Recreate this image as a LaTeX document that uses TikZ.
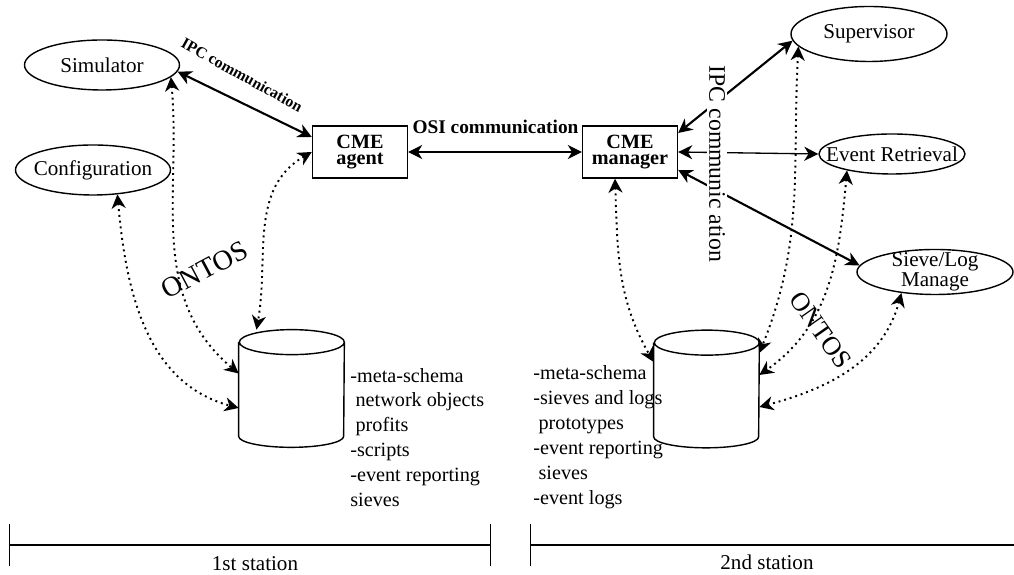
\documentclass[tikz,border=0pt]{standalone}
\usepackage{fontspec}
\setmainfont{Liberation Serif}
\usetikzlibrary{arrows.meta,shapes.geometric}

\begin{document}
\begin{tikzpicture}[
    >={Stealth[length=8pt,width=8pt,inset=2.5pt]},
    every node/.style={font=\fontsize{12}{13}\selectfont},
    app/.style={draw,thick,ellipse,inner xsep=-0.3cm,inner ysep=0pt,minimum width=3.1cm,minimum height=1cm},
    cme/.style={draw,thick,minimum width=1.9cm,minimum height=1.04cm,inner sep=0pt,align=center,font=\fontsize{11.5}{9.5}\selectfont\bfseries},
    store/.style={inner sep=0pt,minimum width=2.1cm,minimum height=2.34cm},
    ipc/.style={<->,line width=1.2pt},
    osi/.style={<->,line width=0.75pt},
    ontos/.style={<->,line width=1.1pt,dash pattern=on 1.1pt off 2.2pt},
    info/.style={anchor=west,align=left,inner sep=0pt,font=\fontsize{11.5}{14.2}\selectfont}]
    \useasboundingbox (0,0) rectangle (20.28,11.5);
    %draw nodes
    \node[app] (sim) at (2.04,10.2) {Simulator};
    \node[app] (conf) at (1.86,8.1) {Configuration};
    \node[cme] (agent) at (7.2,8.46) {CME\\agent};
    \node[cme] (mgr) at (12.6,8.46) {CME\\manager};
    \node[app,minimum width=3.12cm,minimum height=1.1cm] (sup) at (17.38,10.82) {Supervisor};
    \node[app,minimum width=2.92cm,minimum height=0.8cm] (evr) at (17.84,8.42) {Event Retrieval};
    \node[app,minimum width=3.12cm,minimum height=0.9cm,inner ysep=-0.1cm,align=center,font=\fontsize{12}{9}\selectfont] (sieve) at (18.7,6.06) {Sieve/Log\\Manage};
    \node[store] (dbA) at (5.83,3.73) {};
    \node[store] (dbB) at (14.13,3.72) {};
    %draw cylinders
    \foreach \db in {dbA,dbB}
        {%
            \draw[thick] ([yshift=-0.25cm]\db.north west) -- ([yshift=0.22cm]\db.south west)
                arc[start angle=180,end angle=360,x radius=1.05cm,y radius=0.22cm]
                -- ([yshift=-0.25cm]\db.north east)
                arc[start angle=0,end angle=360,x radius=1.05cm,y radius=0.25cm];
        }
    \node[info] (infoA) at (7.0,2.75) {-meta-schema\\\hspace*{3pt}network objects\\\hspace*{3pt}profits\\-scripts\\-event reporting\\sieves};
    \node[info] (infoB) at (10.66,2.76) {-meta-schema\\-sieves and logs\\\hspace*{3pt}prototypes\\-event reporting\\\hspace*{3pt}sieves\\-event logs};
    %draw links
    \draw[ipc] (sim.-5) -- ([yshift=0.3cm]agent.west);
    \draw[osi] (agent) -- (mgr);
    \draw[ipc] ([yshift=0.38cm]mgr.east) -- (sup.-175);
    \draw[osi] (mgr.east) -- (evr.west);
    \draw[ipc] ([yshift=-0.36cm]mgr.east) -- (sieve.175);
    %draw ontos links
    \draw[ontos] (sim.-10) to[out=-85,in=140] ([yshift=0.3cm]dbA.west);
    \draw[ontos] (conf.-45) to[out=-85,in=165] ([yshift=-0.39cm]dbA.west);
    \draw[ontos] (agent.west) to[out=210,in=80] ([xshift=-0.7cm]dbA.north);
    \draw[ontos] ([xshift=-0.3cm]mgr.south) to[out=-88,in=120] ([yshift=0.54cm]dbB.west);
    \draw[ontos] (sup.190) to[out=-93,in=68] ([yshift=0.72cm]dbB.east);
    \draw[ontos] (evr.-160) to[out=-95,in=35] ([yshift=0.28cm]dbB.east);
    \draw[ontos] (sieve.-148) to[out=-105,in=15] ([yshift=-0.36cm]dbB.east);
    %draw labels
    \node[rotate=-29,font=\fontsize{9}{9}\selectfont\bfseries] (ipcA) at (4.84,10.0) {IPC communication};
    \node[font=\fontsize{11}{11}\selectfont\bfseries] (osiL) at (9.91,8.96) {OSI communication};
    \node[rotate=-90,fill=white,inner sep=1pt,font=\fontsize{13.5}{14}\selectfont] (ipcB) at (14.34,8.22) {IPC communic ation};
    \node[rotate=28,font=\fontsize{16}{16}\selectfont] (ontA) at (4.09,6.1) {ONTOS};
    \node[rotate=-55,font=\fontsize{15}{15}\selectfont] (ontB) at (16.42,4.9) {ONTOS};
    %draw stations
    \draw[thick,{Bar[width=0.84cm]}-{Bar[width=0.84cm]}] (0.18,0.6) -- (9.82,0.6);
    \draw[thick,{Bar[width=0.84cm]}-] (10.6,0.6) -- (20.28,0.6);
    \node (st1) at (5.1,0.22) {1st station};
    \node (st2) at (15.34,0.26) {2nd station};
\end{tikzpicture}
\end{document}
